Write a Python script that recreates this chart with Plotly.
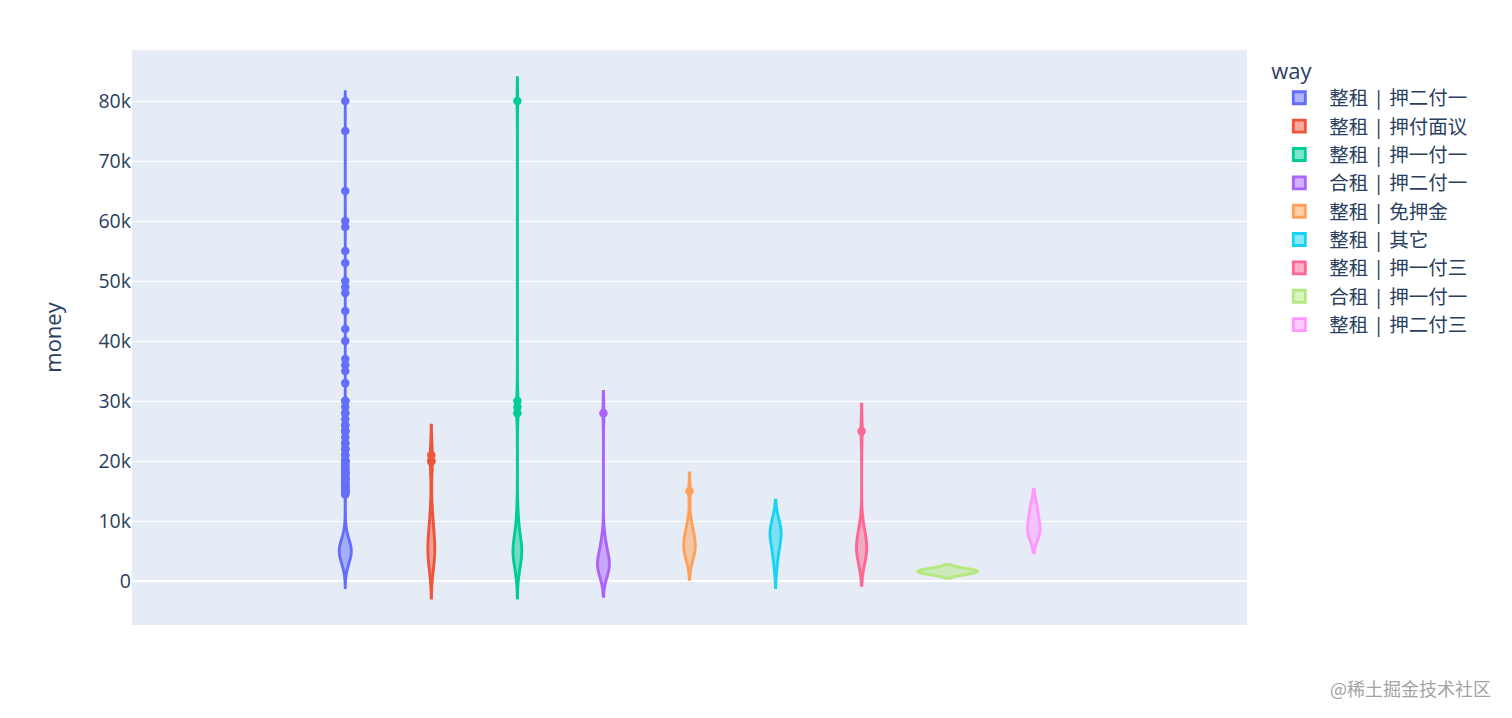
import numpy as np
import pandas as pd
import plotly.express as px

# rent type / deposit way, in legend order
ways = [
    "整租 | 押二付一", "整租 | 押付面议", "整租 | 押一付一",
    "合租 | 押二付一", "整租 | 免押金", "整租 | 其它",
    "整租 | 押一付三", "合租 | 押一付一", "整租 | 押二付三",
]

# 整租 | 押二付一 has many listings, so it is kept as rent -> number of listings
zz_e2f1_money = [500, 1000, 1500, 2000, 2500, 3000, 3500, 4000, 4500, 5000,
                 5500, 6000, 6500, 7000, 7500, 8000, 8500, 9000, 9500, 10000,
                 10500, 11000, 12000, 13000,
                 14500, 15000, 15500, 16000, 16500, 17000, 17500, 18000, 18500,
                 19000, 19500, 20000, 21000, 22000, 23000, 24000, 25000, 26000,
                 27000, 28000, 29000, 30000,
                 33000, 35000, 36000, 37000, 40000, 42000, 45000, 48000, 49000,
                 50000, 53000, 55000, 59000, 60000, 65000, 75000, 80000]
zz_e2f1_count = [2, 4, 6, 10, 14, 19, 25, 29, 33, 34,
                 33, 29, 25, 19, 14, 10, 6, 4, 2, 1,
                 1, 1, 1, 1,
                 2, 8, 3, 6, 2, 4, 2, 6, 2,
                 3, 1, 6, 2, 3, 2, 1, 4, 2,
                 1, 2, 1, 3,
                 1, 1, 1, 1, 1, 1, 1, 1, 1,
                 1, 1, 1, 1, 1, 1, 1, 1]

zz_mianyi = [2200, 3000, 3500, 4000, 4500, 5000, 5500, 6000, 6500, 7000,
             8000, 9000, 10000, 12000, 20000, 20000, 21000]
zz_y1f1 = [1100, 2000, 2500, 3000, 3500, 4000, 4000, 4500, 4500, 5000, 5000,
           5000, 5500, 5500, 6000, 6000, 6500, 7000, 7500, 8000, 9000, 10000,
           12000, 28000, 29000, 30000, 80000]
hz_y2f1 = [1100, 1500, 1800, 2000, 2200, 2500, 2500, 2800, 3000, 3000, 3500,
           4000, 4500, 5000, 5500, 6500, 7500, 28000]
zz_free = [3350, 4000, 4500, 5000, 5500, 6000, 6000, 6500, 7000, 7500, 8000,
           9000, 10000, 15000]
zz_other = [2950, 5000, 6500, 7500, 8000, 8500, 9000, 9500]
zz_y1f3 = [3800, 4000, 4500, 5000, 5000, 5500, 6000, 6500, 7000, 8000, 9000,
           25000]
hz_y1f1 = [1500, 1600, 1800]
zz_y2f3 = [8000, 9000, 12000]

groups = [
    np.repeat(zz_e2f1_money, zz_e2f1_count),
    zz_mianyi, zz_y1f1, hz_y2f1, zz_free, zz_other, zz_y1f3, hz_y1f1, zz_y2f3,
]

df = pd.concat(
    [pd.DataFrame({"way": way, "money": vals}) for way, vals in zip(ways, groups)],
    ignore_index=True,
)

fig = px.violin(df, y="money", color="way")

# kernel widths per violin
bandwidths = {
    "整租 | 押二付一": 775, "整租 | 押付面议": 2500, "整租 | 押一付一": 1950,
    "合租 | 押二付一": 1800, "整租 | 免押金": 1525, "整租 | 其它": 2000,
    "整租 | 押一付三": 2250, "合租 | 押一付一": 500, "整租 | 押二付三": 1640,
}
for trace in fig.data:
    trace.bandwidth = bandwidths[trace.name]

fig.update_traces(scalegroup="money", spanmode="soft", line_width=2.9,
                  marker_size=8.5)

# page body has an 8px margin, so the figure is a bit smaller than the window
fig.update_layout(
    width=1504, height=710,
    margin=dict(l=124, r=265, t=42, b=93),
    font=dict(family='"Open Sans", "Noto Sans CJK SC", verdana, arial, sans-serif',
              size=19.5, color="#2a3f5f"),
    legend=dict(title_font_size=22, tracegroupgap=0, itemwidth=50),
)
fig.update_yaxes(range=[-7300, 88500], title_font_size=22, title_standoff=30)

fig.add_annotation(
    text="@稀土掘金技术社区", xref="paper", yref="paper",
    x=1.221, y=-0.1096, xanchor="right", yanchor="middle", showarrow=False,
    font=dict(family="Noto Sans CJK SC", size=18, color="#a3a3a3"),
)

fig.write_html("out.html")
